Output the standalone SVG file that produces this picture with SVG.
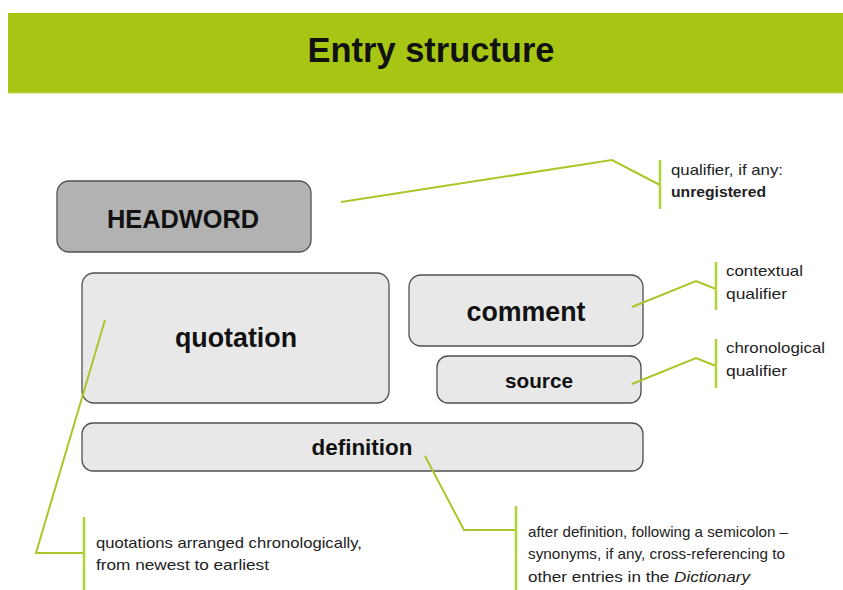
<svg xmlns="http://www.w3.org/2000/svg" width="843" height="590" viewBox="0 0 843 590">
  <style>
    .box { fill: #e8e8e8; stroke: #505050; stroke-width: 1.3; }
    .box-dark { fill: #b2b2b2; stroke: #505050; stroke-width: 1.3; }
    .label { font-family: "Liberation Sans", Arial, sans-serif; font-weight: bold; fill: #111; text-anchor: middle; }
    .note { font-family: "Liberation Sans", Arial, sans-serif; font-size: 15px; fill: #222; }
    .link { fill: none; stroke: #a9c72a; stroke-width: 2; stroke-linejoin: miter; }
    .bar { fill: none; stroke: #b3d237; stroke-width: 2.5; }
  </style>

  <rect width="843" height="590" fill="#ffffff"/>

  <!-- title banner -->
  <g id="banner">
    <rect x="8" y="13" width="835" height="80" fill="#a6c613"/>
    <line x1="8" y1="93.5" x2="843" y2="93.5" stroke="#e3ecb8" stroke-width="1.5"/>
    <text x="431" y="62" class="label" font-size="35" textLength="247" lengthAdjust="spacingAndGlyphs">Entry structure</text>
  </g>

  <g id="headword">
    <rect class="box-dark" x="57" y="181" width="254" height="71" rx="12"/>
    <text x="183" y="228" class="label" font-size="26" textLength="152" lengthAdjust="spacingAndGlyphs">HEADWORD</text>
  </g>

  <g id="quotation">
    <rect class="box" x="82" y="273" width="307" height="130" rx="12"/>
    <text x="236" y="347" class="label" font-size="27" textLength="122" lengthAdjust="spacingAndGlyphs">quotation</text>
  </g>

  <g id="comment">
    <rect class="box" x="409" y="275" width="234" height="71" rx="12"/>
    <text x="526" y="321" class="label" font-size="27" textLength="119" lengthAdjust="spacingAndGlyphs">comment</text>
  </g>

  <g id="source">
    <rect class="box" x="437" y="356" width="204" height="47" rx="11"/>
    <text x="539" y="388" class="label" font-size="21" textLength="68" lengthAdjust="spacingAndGlyphs">source</text>
  </g>

  <g id="definition">
    <rect class="box" x="82" y="423" width="561" height="48" rx="11"/>
    <text x="362" y="455" class="label" font-size="22" textLength="101" lengthAdjust="spacingAndGlyphs">definition</text>
  </g>

  <!-- leader lines, drawn over the boxes -->
  <g id="connectors">
    <polyline class="link" points="341,202 612,160 660,185"/>
    <line class="bar" x1="660" y1="160" x2="660" y2="209"/>

    <polyline class="link" points="632,307 696,281 716,289"/>
    <line class="bar" x1="716" y1="262" x2="716" y2="310"/>

    <polyline class="link" points="632,384 696,358 716,366"/>
    <line class="bar" x1="716" y1="339" x2="716" y2="388"/>

    <polyline class="link" points="105,320 36,553 84,553"/>
    <line class="bar" x1="84" y1="517" x2="84" y2="590"/>

    <polyline class="link" points="425,456 464,530 516,530"/>
    <line class="bar" x1="516" y1="506" x2="516" y2="590"/>
  </g>

  <!-- annotations -->
  <g id="note-headword">
    <text x="671" y="175" class="note" textLength="112" lengthAdjust="spacingAndGlyphs">qualifier, if any:</text>
    <text x="671" y="197" class="note" font-weight="bold" textLength="95" lengthAdjust="spacingAndGlyphs">unregistered</text>
  </g>

  <g id="note-comment">
    <text x="726" y="276" class="note" textLength="77" lengthAdjust="spacingAndGlyphs">contextual</text>
    <text x="726" y="299" class="note" textLength="61" lengthAdjust="spacingAndGlyphs">qualifier</text>
  </g>

  <g id="note-source">
    <text x="726" y="353" class="note" textLength="99" lengthAdjust="spacingAndGlyphs">chronological</text>
    <text x="726" y="376" class="note" textLength="61" lengthAdjust="spacingAndGlyphs">qualifier</text>
  </g>

  <g id="note-quotation">
    <text x="96" y="548" class="note" textLength="266" lengthAdjust="spacingAndGlyphs">quotations arranged chronologically,</text>
    <text x="96" y="570" class="note" textLength="173" lengthAdjust="spacingAndGlyphs">from newest to earliest</text>
  </g>

  <g id="note-definition">
    <text x="528" y="537" class="note" textLength="260" lengthAdjust="spacingAndGlyphs">after definition, following a semicolon –</text>
    <text x="528" y="559" class="note" textLength="257" lengthAdjust="spacingAndGlyphs">synonyms, if any, cross-referencing to</text>
    <text x="528" y="582" class="note" textLength="222" lengthAdjust="spacingAndGlyphs">other entries in the <tspan font-style="italic">Dictionary</tspan></text>
  </g>
</svg>
